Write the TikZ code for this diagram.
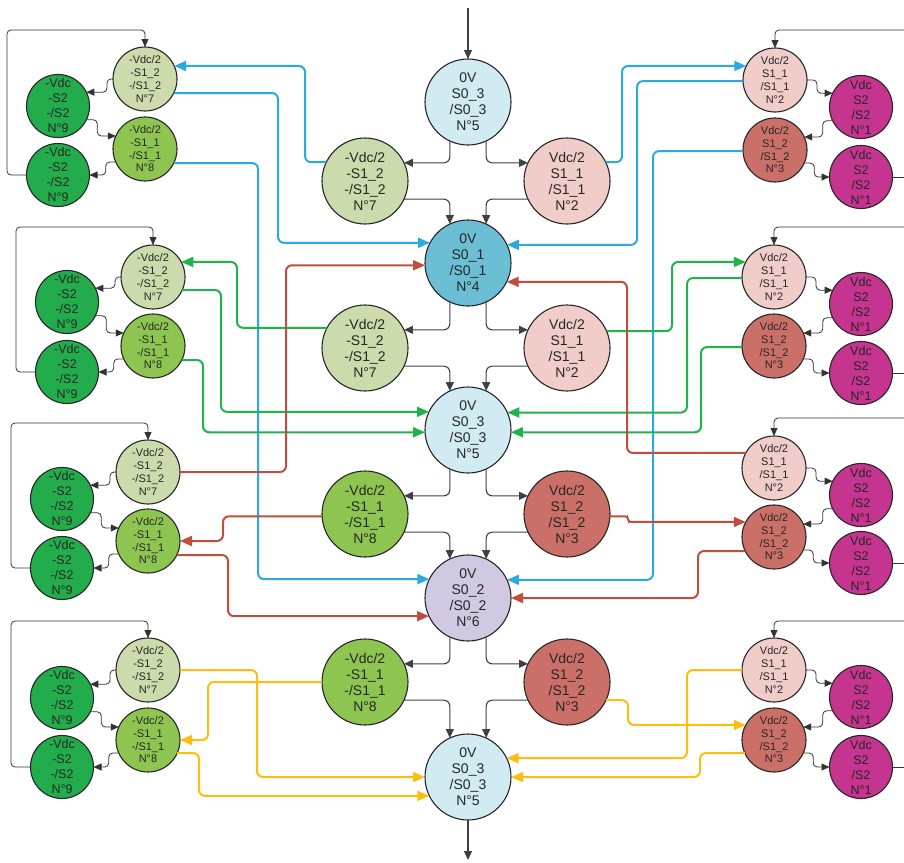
\documentclass[tikz,border=0pt]{standalone}
\usepackage{fontspec}
\setmainfont{Liberation Sans}
\usetikzlibrary{arrows.meta,calc}
\definecolor{cfive}{RGB}{210,235,242}
\definecolor{cfour}{RGB}{107,190,212}
\definecolor{csix}{RGB}{208,201,225}
\definecolor{cseven}{RGB}{203,219,172}
\definecolor{ceight}{RGB}{141,197,80}
\definecolor{cnine}{RGB}{34,172,76}
\definecolor{ctwo}{RGB}{240,205,201}
\definecolor{cthree}{RGB}{203,112,104}
\definecolor{cone}{RGB}{197,52,143}
\definecolor{wblue}{RGB}{41,171,226}
\definecolor{wgreen}{RGB}{34,178,76}
\definecolor{wred}{RGB}{193,77,62}
\definecolor{wyellow}{RGB}{255,190,15}
\tikzset{
  basec/.style={circle, draw=black!85, line width=1.1pt, inner sep=0pt, outer sep=0pt, align=center, text=black!85},
  bigc/.style={basec, minimum size=86pt, font=\fontsize{14}{16}\selectfont},
  smallc/.style={basec, minimum size=64pt, font=\fontsize{11}{12.7}\selectfont},
  vdcc/.style={basec, minimum size=63pt, font=\fontsize{12.5}{15}\selectfont},
  cblk/.style={draw=black!75, line width=1.1pt, rounded corners=6pt, -{Triangle[length=9pt,width=8pt]}},
  sblk/.style={draw=black!80, line width=0.8pt, rounded corners=4pt, -{Triangle[length=8pt,width=7pt]}},
  sline/.style={draw=black!80, line width=0.8pt, rounded corners=4pt},
  wire/.style={line width=2pt, rounded corners=6pt, -{Triangle[length=12pt,width=10pt]}}
}
\begin{document}
\begin{tikzpicture}[x=1pt,y=-1pt]
\useasboundingbox (0,0) rectangle (904,862);

% central column
\node[bigc, fill=cfive] (c1) at (468,102) {0V\\S0\_3\\/S0\_3\\N°5};
\node[bigc, fill=cfour] (c2) at (468,263) {0V\\S0\_1\\/S0\_1\\N°4};
\node[bigc, fill=cfive] (c3) at (468,430) {0V\\S0\_3\\/S0\_3\\N°5};
\node[bigc, fill=csix] (c4) at (468,598) {0V\\S0\_2\\/S0\_2\\N°6};
\node[bigc, fill=cfive] (c5) at (468,777) {0V\\S0\_3\\/S0\_3\\N°5};

\node[bigc, fill=cseven] (l1) at (365,181) {-Vdc/2\\-S1\_2\\-/S1\_2\\N°7};
\node[bigc, fill=ctwo] (r1) at (567,181) {Vdc/2\\S1\_1\\/S1\_1\\N°2};
\node[bigc, fill=cseven] (l2) at (365,348) {-Vdc/2\\-S1\_2\\-/S1\_2\\N°7};
\node[bigc, fill=ctwo] (r2) at (567,348) {Vdc/2\\S1\_1\\/S1\_1\\N°2};
\node[bigc, fill=ceight] (l3) at (365,514) {-Vdc/2\\-S1\_1\\-/S1\_1\\N°8};
\node[bigc, fill=cthree] (r3) at (567,514) {Vdc/2\\S1\_2\\/S1\_2\\N°3};
\node[bigc, fill=ceight] (l4) at (365,682) {-Vdc/2\\-S1\_1\\-/S1\_1\\N°8};
\node[bigc, fill=cthree] (r4) at (567,682) {Vdc/2\\S1\_2\\/S1\_2\\N°3};

\coordinate (tin) at (468,8);
\coordinate (tout) at (468,860);
\draw[cblk] (tin) -- (c1.north);
\draw[cblk] (c5.south) -- (tout);

\foreach \ca/\ma/\mb/\cb in {c1/l1/r1/c2, c2/l2/r2/c3, c3/l3/r3/c4, c4/l4/r4/c5}{
  \draw[cblk] (\ca.245) |- (\ma.25);
  \draw[cblk] (\ca.295) |- (\mb.155);
  \draw[cblk] (\ma.-25) -| (\cb.115);
  \draw[cblk] (\mb.205) -| (\cb.65);
}

% left clusters
\foreach \rw/\ax/\ay/\by/\nx/\ny/\my/\lx/\ly in {
  1/145/79/149/58/106/175/7/30,
  2/153/277/346/67/302/372/16/227,
  3/148/472/541/62/499/568/11/423,
  4/148/670/740/62/698/767/11/621}{
  \node[smallc, fill=cseven] (a7\rw) at (\ax,\ay) {-Vdc/2\\-S1\_2\\-/S1\_2\\N°7};
  \node[smallc, fill=ceight] (a8\rw) at (\ax,\by) {-Vdc/2\\-S1\_1\\-/S1\_1\\N°8};
  \node[vdcc, fill=cnine] (a9\rw) at (\nx,\ny) {-Vdc\\-S2\\-/S2\\N°9};
  \node[vdcc, fill=cnine] (b9\rw) at (\nx,\my) {-Vdc\\-S2\\-/S2\\N°9};
  \coordinate (lp\rw) at (\lx,\ly);
  \draw[sblk] (a7\rw.180) -- ++(-6,0) |- (a9\rw.26);
  \draw[sblk] (a9\rw.-26) -- ++(11,0) |- (a8\rw.156);
  \draw[sblk] (a8\rw.204) -- ++(-10,0) |- (b9\rw.0);
  \draw[sblk] (b9\rw.180) -| (lp\rw) -| (a7\rw.90);
}

% right clusters
\foreach \rw/\ax/\ay/\by/\nx/\ny/\my/\ty in {
  1/775/80/150/861/107/177/30,
  2/774/277/346/861/304/373/227,
  3/774/468/537/861/495/563/418,
  4/774/670/740/861/697/767/621}{
  \node[smallc, fill=ctwo] (p2\rw) at (\ax,\ay) {Vdc/2\\S1\_1\\/S1\_1\\N°2};
  \node[smallc, fill=cthree] (p3\rw) at (\ax,\by) {Vdc/2\\S1\_2\\/S1\_2\\N°3};
  \node[vdcc, fill=cone] (q1\rw) at (\nx,\ny) {Vdc\\S2\\/S2\\N°1};
  \node[vdcc, fill=cone] (s1\rw) at (\nx,\my) {Vdc\\S2\\/S2\\N°1};
  \coordinate (rt\rw) at (904,\ty);
  \coordinate (rb\rw) at (904,\my);
  \draw[sblk] (p2\rw.0) -- ++(10,0) |- (q1\rw.154);
  \draw[sblk] (q1\rw.206) -- ++(-10,0) |- (p3\rw.24);
  \draw[sblk] (p3\rw.-24) -- ++(10,0) |- (s1\rw.180);
  \draw[sline] (s1\rw.0) -- (rb\rw);
  \draw[sblk] (rt\rw) -| (p2\rw.90);
}

% x levels of the coloured connectors
\coordinate (xb1) at (305,0); \coordinate (xb2) at (278,0); \coordinate (xb3) at (258,0);
\coordinate (xb4) at (622,0); \coordinate (xb5) at (637,0); \coordinate (xb6) at (653,0);
\coordinate (xg1) at (237,0); \coordinate (xg2) at (221,0); \coordinate (xg3) at (203,0);
\coordinate (xg4) at (672,0); \coordinate (xg5) at (687,0); \coordinate (xg6) at (701,0);
\coordinate (xr1) at (286,0); \coordinate (xr2) at (223,0); \coordinate (xr3) at (228,0);
\coordinate (xr4) at (627,0); \coordinate (xr5) at (628,0); \coordinate (xr6) at (698,0);
\coordinate (xy1) at (257,0); \coordinate (xy2) at (208,0); \coordinate (xy3) at (199,0);
\coordinate (xy4) at (687,0); \coordinate (xy5) at (628,0); \coordinate (xy6) at (700,0);

% blue
\draw[wire, wblue] (l1.154) -| (xb1 |- a71.24) -- (a71.24);
\draw[wire, wblue] (a71.-26) -| (xb2 |- c2.152) -- (c2.152);
\draw[wire, wblue] (a81.-26) -| (xb3 |- c4.154) -- (c4.154);
\draw[wire, wblue] (r1.26) -| (xb4 |- p21.154) -- (p21.154);
\draw[wire, wblue] (p21.182) -| (xb5 |- c2.25) -- (c2.25);
\draw[wire, wblue] (p31.182) -| (xb6 |- c4.25) -- (c4.25);
% green
\draw[wire, wgreen] (l2.152) -| (xg1 |- a72.28) -- (a72.28);
\draw[wire, wgreen] (a72.-24) -| (xg2 |- c3.155) -- (c3.155);
\draw[wire, wgreen] (a82.-26) -| (xg3 |- c3.183) -- (c3.183);
\draw[wire, wgreen] (r2.23) -| (xg4 |- p22.152) -- (p22.152);
\draw[wire, wgreen] (p22.182) -| (xg5 |- c3.24) -- (c3.24);
\draw[wire, wgreen] (p32.182) -| (xg6 |- c3.-3) -- (c3.-3);
% red
\draw[wire, wred] (a73.0) -| (xr1 |- c2.183) -- (c2.183);
\draw[wire, wred] (l3.183) -| (xr2 |- a83.0) -- (a83.0);
\draw[wire, wred] (a83.-26) -| (xr3 |- c4.205) -- (c4.205);
\draw[wire, wred] (p23.152) -| (xr4 |- c2.-26) -- (c2.-26);
\draw[wire, wred, rounded corners=3pt] (r3.-3) -| (xr5 |- p33.152) -- (p33.152);
\draw[wire, wred] (p33.206) -| (xr6 |- c4.0) -- (c4.0);
% yellow
\draw[wire, wyellow] (a74.0) -| (xy1 |- c5.180) -- (c5.180);
\draw[wire, wyellow] (l4.180) -| (xy2 |- a84.0) -- (a84.0);
\draw[wire, wyellow] (a84.-24) -| (xy3 |- c5.206) -- (c5.206);
\draw[wire, wyellow] (p24.180) -| (xy4 |- c5.26) -- (c5.26);
\draw[wire, wyellow] (r4.-25) -| (xy5 |- p34.152) -- (p34.152);
\draw[wire, wyellow] (p34.204) -| (xy6 |- c5.0) -- (c5.0);
\end{tikzpicture}
\end{document}
